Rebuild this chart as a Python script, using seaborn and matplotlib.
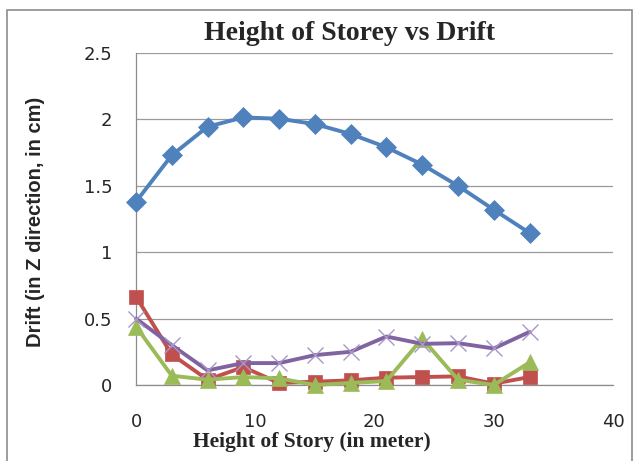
import matplotlib
matplotlib.use("Agg")
import matplotlib.pyplot as plt
import seaborn as sns
import pandas as pd

# storey heights (m)
heights = [0, 3, 6, 9, 12, 15, 18, 21, 24, 27, 30, 33]

# drift values (cm)
drift_blue = [1.38, 1.73, 1.945, 2.015, 2.005, 1.965, 1.89, 1.79, 1.66, 1.50, 1.32, 1.145]
drift_red = [0.665, 0.23, 0.04, 0.135, 0.015, 0.025, 0.035, 0.055, 0.06, 0.065, 0.01, 0.06]
drift_green = [0.44, 0.07, 0.04, 0.06, 0.05, 0.0, 0.015, 0.03, 0.35, 0.04, 0.0, 0.17]
drift_purple = [0.50, 0.30, 0.11, 0.165, 0.165, 0.225, 0.25, 0.365, 0.31, 0.315, 0.275, 0.40]

sns.set_style("white")
plt.rcParams['font.family'] = ['DejaVu Sans']

fig = plt.figure(figsize=(6.38, 4.61), dpi=100)
ax = fig.add_axes([136 / 638, 76 / 461, 477 / 638, 332 / 461])

series = [
    (drift_blue, "#4F81BD", "D", 10, None),
    (drift_red, "#C0504D", "s", 10.5, None),
    (drift_green, "#9BBB59", "^", 11, None),
    (drift_purple, "#8064A2", "x", 12, "#A995C8"),
]
for vals, col, mk, ms, mec in series:
    df = pd.DataFrame({"h": heights, "d": vals})
    sns.lineplot(data=df, x="h", y="d", ax=ax, color=col, linewidth=2.8,
                 marker=mk, markersize=ms, markeredgecolor=mec if mec else col,
                 markeredgewidth=1.0 if mk == "x" else 0.5, zorder=3, clip_on=False)

ax.set_xlim(0, 40)
ax.set_ylim(0, 2.5)
ax.set_xticks([0, 10, 20, 30, 40])
ax.set_yticks([0, 0.5, 1, 1.5, 2, 2.5])
ax.set_yticklabels(["0", "0.5", "1", "1.5", "2", "2.5"])
ax.yaxis.grid(True, color="#9A9A9A", linewidth=0.9)
ax.set_axisbelow(True)
for s in ["top", "right"]:
    ax.spines[s].set_visible(False)
for s in ["left", "bottom"]:
    ax.spines[s].set_color("#8C8C8C")
    ax.spines[s].set_linewidth(0.9)
ax.tick_params(axis="both", labelsize=13, length=0)
ax.tick_params(axis="x", pad=20)
ax.tick_params(axis="y", pad=17)
ax.set_xlabel("")
ax.set_ylabel("")

fig.text(350 / 638, 1 - 33 / 461, "Height of Storey vs Drift", ha="center", va="center",
         fontsize=20, fontweight="bold", family="Liberation Serif")
fig.text(312 / 638, 1 - 442 / 461, "Height of Story (in meter)", ha="center", va="center",
         fontsize=15.5, fontweight="bold", family="Liberation Serif")
fig.text(36 / 638, 1 - 222 / 461, "Drift (in Z direction, in cm)", ha="center", va="center",
         rotation=90, fontsize=14.5, fontweight="bold", family="Liberation Sans")

fig.patches.append(plt.Rectangle((7 / 638, -0.05), 625 / 638, 1 - 10 / 461 + 0.05,
                                 transform=fig.transFigure, fill=False,
                                 edgecolor="#8C8C8C", linewidth=1.2))

fig.savefig("out.png", dpi=100)
